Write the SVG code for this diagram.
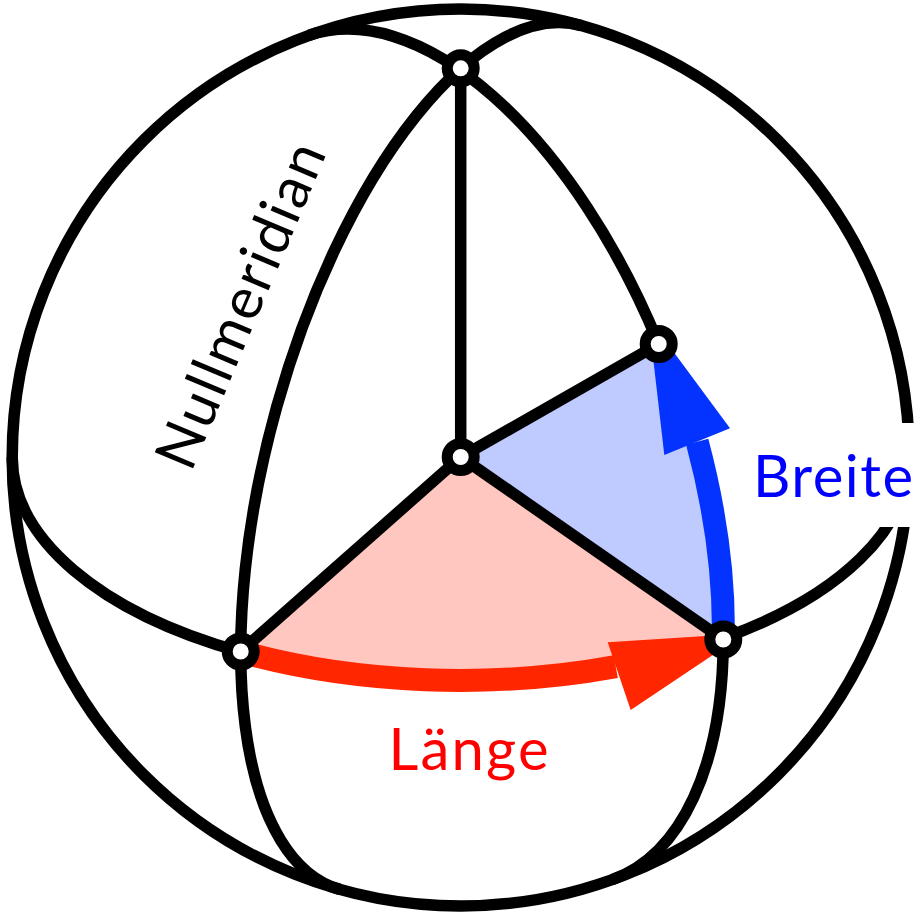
<svg xmlns="http://www.w3.org/2000/svg" width="916" height="914" viewBox="0 0 916 914">
<style>
.ln{fill:none;stroke:#000;stroke-width:11.5;stroke-linejoin:round}
.nd{fill:#fff;stroke:#000;stroke-width:11}
.lbl{font-family:Lato,"Open Sans",sans-serif;font-size:58px}
</style>
<rect x="0" y="0" width="916" height="914" fill="#fff"/>
<g id="sectors">
<path d="M460.7 457 L240.7 651.8 A448.5 222.9 0 0 0 723.3 638.2 Z" fill="#ffc7bf"/>
<path d="M460.7 457 L723.3 640 A448.5 227.9 70.25 0 0 658.7 344 Z" fill="#bfcaff"/>
</g>
<g id="arrows">
<path d="M240.7 651.8 A448.5 222.9 0 0 0 615.8 666.6" fill="none" stroke="#ff2600" stroke-width="23"/>
<polygon points="607.7,642.3 745,633.5 630.7,710" fill="#ff2600"/>
<path d="M723.3 640 A448.5 227.9 70.25 0 0 697.2 441.7" fill="none" stroke="#0433ff" stroke-width="23"/>
<polygon points="648.5,318 730,428.3 664.3,455" fill="#0433ff"/>
</g>
<g id="connectors">
<circle class="ln" cx="460.7" cy="457.5" r="448.5"/>
<path class="ln" d="M339.9 889.4 A448.5 190.9 -74.37 0 1 276.9 406.1 A448.5 190.9 -74.37 0 1 581.5 25.6"/>
<path class="ln" d="M309.2 35.3 A448.5 227.9 70.25 0 1 658.7 344"/>
<path class="ln" d="M723.3 640 A448.5 227.9 70.25 0 1 612.2 879.7"/>
<path class="ln" d="M12.2 457.5 A448.5 222.9 0 0 0 240.7 651.8"/>
<path class="ln" d="M723.3 638.2 A448.5 222.9 0 0 0 909.2 457.5"/>
<line class="ln" x1="460.7" y1="457" x2="460.7" y2="68.3"/>
<line class="ln" x1="460.7" y1="457" x2="240.7" y2="651.5"/>
<line class="ln" x1="460.7" y1="457" x2="723.3" y2="639.5"/>
<line class="ln" x1="460.7" y1="457" x2="658.7" y2="344"/>
</g>
<rect x="748" y="423" width="168" height="104" fill="#fff"/>
<g id="node-north"><circle class="nd" cx="460.7" cy="68.3" r="13.5"/></g>
<g id="node-center"><circle class="nd" cx="460.7" cy="457" r="13.5"/></g>
<g id="node-a"><circle class="nd" cx="240.7" cy="651.5" r="13.5"/></g>
<g id="node-b"><circle class="nd" cx="723.3" cy="639.5" r="13.5"/></g>
<g id="node-d"><circle class="nd" cx="658.7" cy="344" r="13.5"/></g>
<g id="labels">
<text class="lbl" x="753" y="497" fill="#0000ff" textLength="160">Breite</text>
<text class="lbl" x="388.5" y="770" fill="#ff0000" textLength="160">Länge</text>
<text class="lbl" transform="translate(259,313) rotate(-67)" text-anchor="middle" fill="#000" font-size="60" textLength="348">Nullmeridian</text>
</g>
</svg>
